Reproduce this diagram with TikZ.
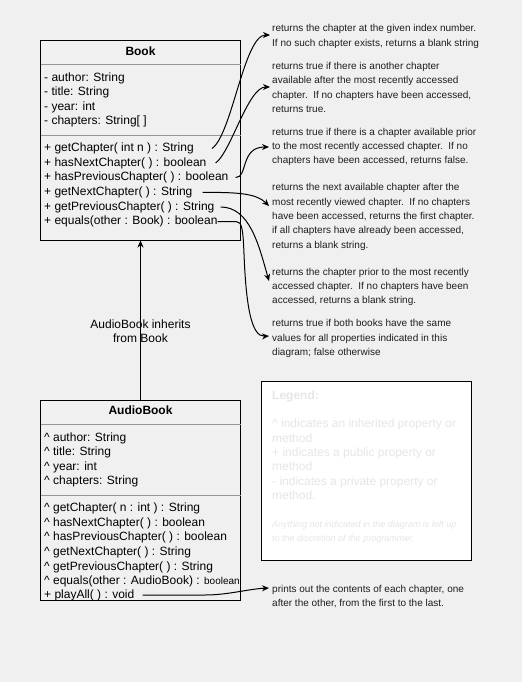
\documentclass[tikz,border=0pt]{standalone}
\usepackage{fontspec}
\setmainfont{Liberation Sans}
\usetikzlibrary{arrows.meta}
\definecolor{bgc}{RGB}{240,240,240}
\definecolor{sepc}{RGB}{150,150,150}
\definecolor{annc}{RGB}{30,30,30}
\definecolor{legc}{RGB}{230,230,230}
\begin{document}
\begin{tikzpicture}[x=1bp,y=-1bp,
  clsbox/.style={draw=black,line width=1bp,minimum width=200bp,minimum height=200bp,anchor=north west,inner sep=0pt,outer sep=0pt},
  clstitle/.style={font=\bfseries\fontsize{12bp}{14bp}\selectfont,inner sep=0pt},
  mline/.style={font=\fontsize{12bp}{14bp}\selectfont,inner sep=0pt,anchor=west,text height=8.6bp,text depth=2.5bp},
  sepline/.style={draw=sepc,line width=1bp},
  annot/.style={font=\fontsize{10bp}{14.4bp}\selectfont,align=left,anchor=west,inner sep=0pt,text=annc},
  connector/.style={draw=black,line width=1bp,-{Stealth[length=7bp,width=6bp]}},
  legtext/.style={align=left,anchor=west,inner sep=0pt,text=legc}
]
\fill[bgc] (0,0) rectangle (522,682);
\useasboundingbox (0,0) rectangle (522,682);

% ---------- Book ----------
\node[clsbox] (book) at (40.5,40.5) {};
\node[clstitle] (booktitle) at (140.5,51.5) {Book};
\draw[sepline] (40.5,64.5) -- (240.5,64.5);
\draw[sepline] (40.5,135.5) -- (240.5,135.5);
\node[mline] (b1) at (44,78) {- author: String};
\node[mline] (b2) at (44,92.5) {- title: String};
\node[mline] (b3) at (44,107) {- year: int};
\node[mline] (b4) at (44,121.5) {- chapters: String[ ]};
\node[mline] (m1) at (44,148.5) {+ getChapter( int n ) : String};
\node[mline] (m2) at (44,163) {+ hasNextChapter( ) : boolean};
\node[mline] (m3) at (44,177.5) {+ hasPreviousChapter( ) : boolean};
\node[mline] (m4) at (44,192.5) {+ getNextChapter( ) : String};
\node[mline] (m5) at (44,207) {+ getPreviousChapter( ) : String};
\node[mline] (m6) at (44,221.5) {+ equals(other : Book) : boolean};

% ---------- AudioBook ----------
\node[clsbox] (audio) at (40.5,400.5) {};
\node[clstitle] (audiotitle) at (140.5,410.5) {AudioBook};
\draw[sepline] (40.5,424.5) -- (240.5,424.5);
\draw[sepline] (40.5,495.5) -- (240.5,495.5);
\node[mline] (ab1) at (44,438) {\textasciicircum{} author: String};
\node[mline] (ab2) at (44,452.5) {\textasciicircum{} title: String};
\node[mline] (ab3) at (44,467) {\textasciicircum{} year: int};
\node[mline] (ab4) at (44,481) {\textasciicircum{} chapters: String};
\node[mline] (n1) at (44,508.5) {\textasciicircum{} getChapter( n : int ) : String};
\node[mline] (n2) at (44,523) {\textasciicircum{} hasNextChapter( ) : boolean};
\node[mline] (n3) at (44,537.5) {\textasciicircum{} hasPreviousChapter( ) : boolean};
\node[mline] (n4) at (44,552) {\textasciicircum{} getNextChapter( ) : String};
\node[mline] (n5) at (44,567) {\textasciicircum{} getPreviousChapter( ) : String};
\node[mline] (n6) at (44,581.5) {\textasciicircum{} equals(other : AudioBook) : {\fontsize{10bp}{12bp}\selectfont boolean}};
\node[mline] (n7) at (44,595) {+ playAll( ) : void};

% ---------- inheritance ----------
\draw[connector] (audio.north) -- (book.south);
\node[font=\fontsize{12bp}{13.5bp}\selectfont,align=center,inner sep=0pt] (inh) at (140.5,331) {AudioBook inherits\\from Book};

% ---------- annotations ----------
\node[annot] (a1) at (272,36.5) {returns the chapter at the given index number.\\If no such chapter exists, returns a blank string};
\node[annot] (a2) at (272,87.5) {returns true if there is another chapter\\available after the most recently accessed\\chapter.\ \ If no chapters have been accessed,\\returns true.};
\node[annot] (a3) at (272,147) {returns true if there is a chapter available prior\\to the most recently accessed chapter.\ \ If no\\chapters have been accessed, returns false.};
\node[annot] (a4) at (272,217) {returns the next available chapter after the\\most recently viewed chapter.\ \ If no chapters\\have been accessed, returns the first chapter.\\if all chapters have already been accessed,\\returns a blank string.};
\node[annot] (a5) at (272,287) {returns the chapter prior to the most recently\\accessed chapter.\ \ If no chapters have been\\accessed, returns a blank string.};
\node[annot] (a6) at (272,338.5) {returns true if both books have the same\\values for all properties indicated in this\\diagram; false otherwise};
\node[annot] (a7) at (272,596.5) {prints out the contents of each chapter, one\\after the other, from the first to the last.};

% ---------- connectors ----------
\draw[connector] ([xshift=18bp]m1.east) .. controls (232,135) and (244,35) .. ([shift={(-2,-1.5)}]a1.west);
\draw[connector] ([xshift=9bp]m2.east) .. controls (231,152) and (248,87) .. ([shift={(-2,-0.5)}]a2.west);
\draw[connector] ([xshift=7bp]m3.east) .. controls (248,178) and (240,147) .. ([shift={(-3,0)}]a3.west);
\draw[connector] ([xshift=10bp]m4.east) .. controls (240,192) and (257,194) .. ([shift={(-3,-11)}]a4.west);
\draw[connector] ([xshift=6bp]m5.east) .. controls (250,207) and (259,246) .. ([shift={(-3,-6)}]a5.west);
\draw[connector] (m6.east) -- (236,221.5) .. controls (242,221.5) and (243,229) .. (244,254) .. controls (246,304) and (251,337) .. ([shift={(-3,-2.5)}]a6.west);
\draw[connector] ([xshift=8bp]n7.east) -- (205,595) .. controls (228,595) and (248,589) .. ([shift={(-3,-8.5)}]a7.west);

% ---------- legend ----------
\node[draw=black,fill=white,line width=1bp,minimum width=210bp,minimum height=179bp,anchor=north west,inner sep=0pt] (legend) at (260.5,381) {};
\node[legtext,font=\fontsize{12bp}{14.3bp}\selectfont] (legbody) at (272,445) {\textbf{Legend:}\\[14.3bp]\textasciicircum{} indicates an inherited property or\\method\\+ indicates a public property or\\method\\- indicates a private property or\\method.};
\node[legtext,font=\itshape\fontsize{9bp}{14bp}\selectfont] (legnote) at (272,532.5) {Anything not indicated in the diagram is left up\\to the discretion of the programmer.};
\end{tikzpicture}
\end{document}
